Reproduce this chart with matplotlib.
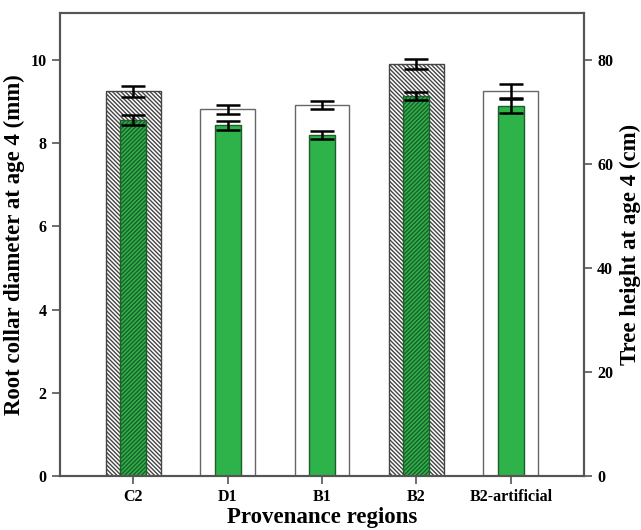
import matplotlib
matplotlib.use("Agg")
import matplotlib.pyplot as plt
import numpy as np

# data
regions = ["C2", "D1", "B1", "B2", "B2-artificial"]
diameter = [9.25, 8.81, 8.91, 9.90, 9.25]        # mm, left axis
diameter_err = [0.13, 0.10, 0.10, 0.12, 0.17]
height = [68.4, 67.4, 65.6, 73.1, 71.1]          # cm, right axis
height_err = [0.9, 0.8, 0.75, 0.8, 1.3]
hatched = [True, False, False, True, False]

plt.rcParams['font.family'] = ['Liberation Serif', 'DejaVu Serif']
plt.rcParams['font.weight'] = 'bold'
plt.rcParams['hatch.linewidth'] = 1.0

fig = plt.figure(figsize=(6.41, 5.30), dpi=100)
ax = fig.add_axes([0.0936, 0.1019, 0.8175, 0.8736])
ax2 = ax.twinx()

x = np.arange(len(regions))
spine_col = "#555555"

# wide bars: diameter
for i in range(len(regions)):
    ax.bar(x[i], diameter[i], width=0.58, color="white",
           edgecolor="#444444" if hatched[i] else "#666666",
           linewidth=1.0, hatch="\\\\\\\\\\\\\\\\" if hatched[i] else None, zorder=2)
ax.errorbar(x, diameter, yerr=diameter_err, fmt="none", ecolor="black",
            elinewidth=1.8, capsize=8.5, capthick=1.8, zorder=5)

# narrow green bars: height
for i in range(len(regions)):
    ax2.bar(x[i], height[i], width=0.275, color="#2db34a",
            edgecolor="#1d5e2a", linewidth=1.0,
            hatch="////////" if hatched[i] else None, zorder=2)
ax2.errorbar(x, height, yerr=height_err, fmt="none", ecolor="black",
             elinewidth=1.8, capsize=8.5, capthick=1.8, zorder=5)

ax.set_xlim(-0.775, 4.775)
ax.set_ylim(0, 11.13)
ax2.set_ylim(0, 89.0)
ax.set_yticks([0, 2, 4, 6, 8, 10])
ax2.set_yticks([0, 20, 40, 60, 80])
ax.set_xticks(x)
ax.set_xticklabels(regions, fontsize=11, fontweight="bold")

for a in (ax, ax2):
    for s in a.spines.values():
        s.set_color(spine_col)
        s.set_linewidth(1.5)
    a.tick_params(axis="both", direction="out", length=6, width=1.2,
                  color=spine_col, labelsize=11.5)

ax.set_ylabel("Root collar diameter at age 4 (mm)", fontsize=16.5,
              fontweight="bold", labelpad=4)
ax2.set_ylabel("Tree height at age 4 (cm)", fontsize=16.5,
               fontweight="bold", labelpad=5)
ax.set_xlabel("Provenance regions", fontsize=16.5, fontweight="bold", labelpad=1)

fig.savefig("out.png", dpi=100)
